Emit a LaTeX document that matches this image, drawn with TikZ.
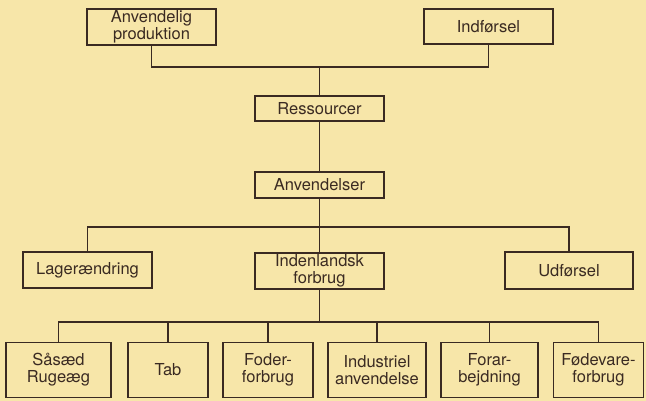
\documentclass[tikz,border=0pt]{standalone}
\usepackage{fontspec}
\setmainfont{TeX Gyre Heros}
\definecolor{paper}{HTML}{F7E6A9}
\definecolor{ink}{HTML}{3A2A22}
\begin{document}
\begin{tikzpicture}[x=1pt,y=-1pt,line width=1.3pt,draw=ink,
  box/.style={draw=ink,text=ink,align=center,inner sep=0pt,
    font=\fontsize{16.5}{17}\selectfont}]

\fill[paper] (0,0) rectangle (646,401);
\useasboundingbox (0,0) rectangle (646,401);

\node[box,minimum width=129pt,minimum height=36pt](ap) at (151.5,27) {Anvendelig\\produktion};
\node[box,minimum width=129pt,minimum height=35pt](indf) at (488.5,26.5) {Indførsel};
\node[box,minimum width=129pt,minimum height=25pt](res) at (319.5,108.5) {Ressourcer};
\node[box,minimum width=129pt,minimum height=26pt](anv) at (319.5,185) {Anvendelser};

\node[box,minimum width=129pt,minimum height=36pt](lag) at (87.5,270) {Lagerændring};
\node[box,minimum width=129pt,minimum height=36pt](inl) at (319.5,271) {Indenlandsk\\forbrug};
\node[box,minimum width=128pt,minimum height=37pt](udf) at (569,270.5) {Udførsel};

\node[box,minimum width=105pt,minimum height=55pt](saa) at (58.5,370) {Såsæd\\Rugeæg};
\node[box,minimum width=80pt,minimum height=55pt](tab) at (168,370) {Tab};
\node[box,minimum width=90pt,minimum height=55pt](fod) at (268,370) {Foder-\\forbrug};
\node[box,minimum width=98pt,minimum height=55pt](indu) at (377,370) {Industriel\\anvendelse};
\node[box,minimum width=97pt,minimum height=55pt](fora) at (489.5,370) {Forar-\\bejdning};
\node[box,minimum width=90pt,minimum height=55pt](fode) at (598.5,370) {Fødevare-\\forbrug};

\coordinate(j1) at (319.5,67);
\coordinate(j2) at (319.5,227);
\coordinate(j3) at (319.5,322);

\draw (ap.south) |- (j1);
\draw (indf.south) |- (j1);
\draw (j1) -- (res.north);
\draw (res.south) -- (anv.north);

\draw (anv.south) -- (inl.north);
\draw (lag.north) |- (j2);
\draw (udf.north) |- (j2);

\draw (inl.south) -- (j3);
\draw (saa.north) |- (j3);
\draw (tab.north) |- (j3);
\draw (fod.north) |- (j3);
\draw (indu.north) |- (j3);
\draw (fora.north) |- (j3);
\draw (fode.north) |- (j3);

\end{tikzpicture}
\end{document}
